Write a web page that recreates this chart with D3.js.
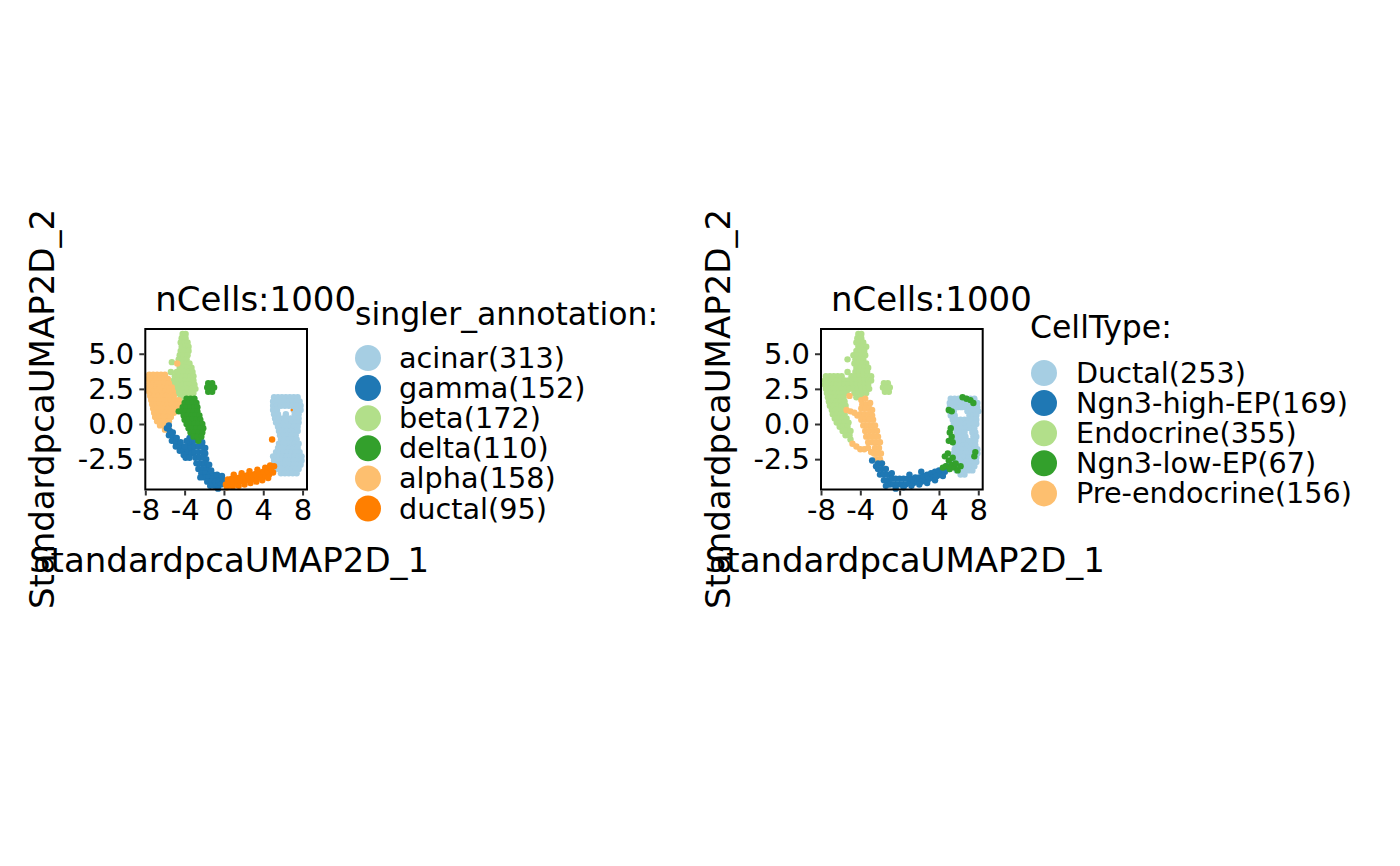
<!DOCTYPE html>
<html><head><meta charset="utf-8">
<script src="https://cdn.jsdelivr.net/npm/d3@7"></script>
<style>body{margin:0;background:#fff}svg{display:block}text{font-family:"DejaVu Sans",sans-serif;fill:#000}</style>
</head><body><svg id="chart" width="1400" height="866"></svg>
<script>
// ---------- data ----------
const title = "nCells:1000";
const xLabel = "StandardpcaUMAP2D_1";
const yLabel = "StandardpcaUMAP2D_2";
const xTicks = [-8, -4, 0, 4, 8];
const yTicks = [-2.5, 0, 2.5, 5];
const palette = ["#a6cee3", "#1f78b4", "#b2df8a", "#33a02c", "#fdbf6f", "#ff7f00"];

const legend1Title = "singler_annotation:";
const cats1 = ["acinar", "gamma", "beta", "delta", "alpha", "ductal"];
const counts1 = [313, 152, 172, 110, 158, 95];
const legend2Title = "CellType:";
const cats2 = ["Ductal", "Ngn3-high-EP", "Endocrine", "Ngn3-low-EP", "Pre-endocrine"];
const counts2 = [253, 169, 355, 67, 156];

// rows: [y, [x values]]
const acinarRows = [
 [1.9,[5.1,5.5,5.9,6.3,6.7,7.1,7.5]],
 [1.6,[5.0,5.4,5.8,6.2,6.6,7.0,7.4,7.7]],
 [1.3,[5.0,5.4,5.8,6.2,6.6,7.0,7.4,7.8]],
 [1.0,[5.0,5.4,7.1,7.5,7.8]],
 [0.7,[5.1,5.5,6.3,7.2,7.6]],
 [0.4,[5.2,5.6,6.0,6.4,6.8,7.2,7.6]],
 [0.1,[5.3,5.7,6.1,6.5,6.9,7.3,7.6]],
 [-0.2,[5.5,5.9,6.3,6.7,7.1,7.5]],
 [-0.5,[5.6,6.0,6.4,6.8,7.2,7.5]],
 [-0.8,[5.7,6.1,6.5,6.9,7.3]],
 [-1.1,[5.8,6.2,6.6,7.0,7.4]],
 [-1.4,[5.6,6.0,6.4,6.8,7.2,7.6]],
 [-1.7,[5.5,5.9,6.3,6.7,7.1,7.5]],
 [-2.0,[5.3,5.7,6.1,6.5,6.9,7.3,7.7]],
 [-2.3,[5.0,5.2,5.6,6.0,6.4,6.8,7.2,7.6,7.9]],
 [-2.6,[5.1,5.5,5.9,6.3,6.7,7.1,7.5,7.9]],
 [-2.9,[5.1,5.5,5.9,6.3,6.7,7.1,7.5,7.8]],
 [-3.2,[5.3,5.7,6.1,6.5,6.9,7.3,7.6]],
 [-3.5,[5.8,6.2,6.6,7.0,7.4]]
];
const betaRows = [
 [6.4,[-4.2,-3.9]],
 [6.1,[-4.3,-3.9]],
 [5.8,[-4.4,-4.0,-3.7]],
 [5.5,[-4.3,-3.9,-3.6]],
 [5.2,[-4.4,-4.0,-3.6]],
 [4.9,[-4.5,-4.1,-3.7]],
 [4.6,[-4.6,-4.2,-3.8]],
 [4.4,[-5.3]],
 [4.3,[-4.6,-4.2,-3.8,-3.5]],
 [4.0,[-4.5,-4.1,-3.7,-3.3]],
 [3.7,[-5.4,-4.8,-4.4,-4.0,-3.6,-3.2]],
 [3.4,[-5.0,-4.6,-4.2,-3.8,-3.4,-3.1]],
 [3.1,[-5.1,-4.7,-4.3,-3.9,-3.5,-3.1]],
 [2.8,[-5.0,-4.6,-4.2,-3.8,-3.4,-3.0]],
 [2.5,[-4.9,-4.5,-4.1,-3.7,-3.3,-2.9]],
 [2.2,[-4.7,-4.3,-3.9,-3.5,-3.1]],
 [1.9,[-4.4,-4.0,-3.6,-3.2]],
 [1.6,[-4.2,-3.8]]
];
const alphaRows = [
 [4.3,[-4.75]],
 [3.5,[-7.6,-7.2,-6.8,-6.4,-6.0]],
 [3.2,[-7.7,-7.3,-6.9,-6.5,-6.1,-5.7]],
 [2.9,[-7.6,-7.2,-6.8,-6.4,-6.0,-5.6]],
 [2.6,[-7.7,-7.3,-6.9,-6.5,-6.1,-5.7,-5.3]],
 [2.3,[-7.6,-7.2,-6.8,-6.4,-6.0,-5.6,-5.2]],
 [2.0,[-7.5,-7.1,-6.7,-6.3,-5.9,-5.5,-5.1]],
 [1.7,[-7.4,-7.0,-6.6,-6.2,-5.8,-5.4,-5.0,-4.6]],
 [1.4,[-7.3,-6.9,-6.5,-6.1,-5.7,-5.3,-4.9,-4.5]],
 [1.1,[-7.2,-6.8,-6.4,-6.0,-5.6,-5.2,-4.8]],
 [0.8,[-7.1,-6.7,-6.3,-5.9,-5.5,-5.1]],
 [0.5,[-7.0,-6.6,-6.2,-5.8,-5.4]],
 [0.2,[-6.8,-6.4,-6.0,-5.6]],
 [-0.1,[-6.5,-6.1,-5.7]],
 [-0.4,[-6.0,-5.6]]
];
const deltaRows = [
 [2.9,[-1.6,-1.2]],
 [2.6,[-1.7,-1.3,-1.0]],
 [2.3,[-1.6,-1.2]],
 [1.8,[-3.8,-3.4,-3.0]],
 [1.5,[-4.0,-3.6,-3.2,-2.8]],
 [1.2,[-4.2,-3.8,-3.4,-3.0,-2.7]],
 [0.9,[-4.6,-4.3,-3.9,-3.5,-3.1,-2.7]],
 [0.6,[-4.1,-3.7,-3.3,-2.9,-2.5]],
 [0.3,[-4.0,-3.6,-3.2,-2.8,-2.4]],
 [0.0,[-3.8,-3.4,-3.0,-2.6,-2.2]],
 [-0.3,[-3.6,-3.2,-2.8,-2.4,-2.1]],
 [-0.6,[-3.4,-3.0,-2.6,-2.2]],
 [-0.9,[-3.1,-2.7,-2.3]],
 [-1.2,[-2.6]]
];
const gammaPts = [
 [-5.8,-0.3],[-5.5,-0.5],[-5.6,-0.8],[-5.2,-0.9],[-5.3,-1.2],[-4.9,-1.3],[-4.9,-1.6],[-4.5,-1.6],
 [-4.5,-1.9],[-4.1,-1.9],[-4.1,-2.2],[-3.7,-2.1],[-3.7,-1.8],[-3.6,-1.4],[-3.5,-1.0],[-3.3,-1.3],
 [-3.3,-1.7],[-3.3,-2.1],[-3.0,-1.2],[-2.6,-1.2],[-2.2,-1.3],[-3.0,-1.6],[-2.6,-1.6],[-2.2,-1.6],
 [-1.9,-1.7],[-3.0,-2.0],[-2.6,-2.0],[-2.2,-2.0],[-1.9,-2.1],[-2.9,-2.4],[-2.5,-2.4],[-2.1,-2.4],
 [-1.8,-2.5],[-2.8,-2.8],[-2.4,-2.8],[-2.0,-2.8],[-1.7,-2.9],[-2.6,-3.2],[-2.2,-3.2],[-1.8,-3.2],
 [-1.5,-3.3],[-2.3,-3.5],[-1.9,-3.5],[-1.5,-3.6],[-1.1,-3.6],[-2.0,-3.8],[-1.6,-3.8],[-1.2,-3.9],
 [-0.8,-3.9],[-0.4,-3.8],[-1.7,-4.1],[-1.3,-4.1],[-0.9,-4.1],[-0.5,-4.1],[-0.1,-4.0],[-1.0,-4.4],
 [-0.6,-4.4],[-0.3,-4.3],[-2.6,-0.8],
 [-5.6,-0.1],[-5.2,-0.6],[-4.8,-1.0],[-4.4,-1.3],[-4.0,-1.6],[-3.9,-2.4],[-3.5,-2.4],[-3.8,-1.2],
 [-1.5,-2.9],[-1.3,-3.3],[-0.7,-3.6],[-0.2,-3.7],[-1.4,-4.4],[-2.4,-3.8],[-0.6,-4.6],[-3.1,-0.9]
];
const ductalPts = [
 [0.2,-4.3],[0.6,-4.25],[1.0,-4.2],[1.4,-4.15],[1.8,-4.05],[2.2,-4.0],[2.6,-3.95],[3.0,-3.9],
 [3.4,-3.8],[3.8,-3.75],[4.2,-3.7],[4.6,-3.6],[5.0,-3.45],
 [0.4,-3.95],[0.8,-3.9],[1.2,-3.85],[1.6,-3.8],[2.0,-3.7],[2.4,-3.65],[2.8,-3.6],[3.2,-3.55],
 [3.6,-3.45],[4.0,-3.4],[4.4,-3.35],[4.8,-3.2],
 [1.0,-3.6],[1.8,-3.5],[2.6,-3.35],[3.4,-3.25],[4.2,-3.1],[4.7,-2.95],[5.1,-3.0],
 [0.3,-4.5],[0.9,-4.45],[1.5,-4.4],[2.1,-4.3],[2.7,-4.2],[3.3,-4.1],[3.9,-4.0],[4.5,-3.85],
 [4.9,-1.1]
];
const ductalSmall = [[6.9, 1.0]];

const ductal2Rows = [
 [1.8,[5.2,5.6,6.0,6.4,6.8,7.2,7.6]],
 [1.5,[5.1,5.5,5.9,6.3,6.7,7.1,7.5,7.9]],
 [1.2,[5.1,5.5,5.9,6.3,6.7,7.1,7.5,7.9]],
 [0.9,[5.1,5.5,6.9,7.3,7.7,8.0]],
 [0.6,[5.2,5.6,7.1,7.5,7.8]],
 [0.3,[5.4,5.8,6.2,6.6,7.0,7.4,7.8]],
 [0.0,[5.5,5.9,6.3,6.7,7.1,7.5,7.8]],
 [-0.3,[5.6,6.0,6.4,6.8,7.2,7.6]],
 [-0.6,[5.8,6.2,6.6,7.4,7.7]],
 [-0.9,[5.9,6.3,6.7,7.5,7.8]],
 [-1.2,[5.8,6.2,6.6,7.0,7.4,7.7]],
 [-1.5,[5.7,6.1,6.5,6.9,7.3,7.7]],
 [-1.8,[5.6,6.0,6.4,6.8,7.2,7.6,7.9]],
 [-2.1,[5.5,5.9,6.3,6.7,7.1,7.5,7.9]],
 [-2.4,[5.4,5.8,6.2,6.6,7.0,7.4,7.8]],
 [-2.7,[5.5,5.9,6.3,6.7,7.1,7.5,7.8]],
 [-3.0,[5.6,6.0,6.4,6.8,7.2,7.6]],
 [-3.3,[5.8,6.2,6.6,7.0,7.4]],
 [-3.6,[6.2,6.6]]
];
const endocrineRows = [
 [6.4,[-4.2,-3.9]],
 [6.1,[-4.3,-3.9]],
 [5.8,[-4.4,-4.0,-3.7]],
 [5.5,[-4.2,-3.8,-3.4]],
 [5.2,[-4.4,-4.0,-3.6]],
 [4.9,[-4.7,-4.3,-3.9,-3.5]],
 [4.6,[-5.3,-4.5,-4.1,-3.7]],
 [4.3,[-4.6,-4.2,-3.8,-3.4]],
 [4.0,[-4.4,-4.0,-3.6,-3.2]],
 [3.7,[-5.3,-4.5,-4.1,-3.7,-3.3]],
 [3.4,[-7.5,-7.1,-6.7,-6.3,-5.9,-4.9,-4.5,-4.1,-3.7,-3.3,-2.9]],
 [3.1,[-7.6,-7.2,-6.8,-6.4,-6.0,-5.6,-5.2,-4.8,-4.4,-4.0,-3.6,-3.2,-2.9]],
 [2.8,[-7.6,-7.2,-6.8,-6.4,-6.0,-5.6,-5.2,-4.8,-4.4,-4.0,-3.6,-3.2]],
 [2.5,[-7.5,-7.1,-6.7,-6.3,-5.9,-5.5,-5.1,-4.7,-4.3,-3.9,-3.5,-3.1]],
 [2.2,[-7.4,-7.0,-6.6,-6.2,-5.8,-5.4,-4.6,-4.2,-3.8,-3.4]],
 [1.9,[-7.3,-6.9,-6.5,-6.1,-5.7,-4.4,-4.0]],
 [1.6,[-7.2,-6.8,-6.4,-6.0,-5.6]],
 [1.3,[-7.1,-6.7,-6.3,-5.9,-5.5]],
 [1.0,[-6.9,-6.5,-6.1,-5.7]],
 [0.7,[-6.8,-6.4,-6.0,-5.6]],
 [0.4,[-6.6,-6.2,-5.8,-5.4]],
 [0.1,[-6.4,-6.0,-5.6,-5.2]],
 [-0.2,[-6.1,-5.7,-5.3]],
 [-0.5,[-5.8,-5.4,-5.0]],
 [-0.8,[-5.5,-5.1]],
 [-1.1,[-5.0]],
 [2.9,[-1.6,-1.2]],
 [2.6,[-1.7,-1.3,-1.0]],
 [2.3,[-1.5,-1.1]]
];
const preEndoPts = [
 [-5.1,2.0],[-5.4,1.0],[-5.0,0.9],[-4.6,0.8],[-4.3,0.6],
 [-3.9,1.7],[-3.5,1.8],[-3.8,1.4],[-3.4,1.4],[-3.0,1.5],
 [-3.9,1.1],[-3.5,1.1],[-3.1,1.1],[-2.8,1.0],
 [-4.0,0.7],[-3.6,0.7],[-3.2,0.7],[-2.8,0.6],
 [-3.9,0.3],[-3.5,0.3],[-3.1,0.3],[-2.7,0.3],
 [-3.7,-0.1],[-3.3,-0.1],[-2.9,-0.1],[-2.5,-0.1],
 [-3.5,-0.5],[-3.1,-0.5],[-2.7,-0.5],[-2.3,-0.5],
 [-3.4,-0.9],[-3.0,-0.9],[-2.6,-0.9],[-2.2,-0.9],
 [-3.2,-1.3],[-2.8,-1.3],[-2.4,-1.3],[-2.0,-1.3],
 [-4.8,-1.4],[-4.4,-1.6],[-4.0,-1.8],[-3.6,-1.8],[-3.2,-1.7],
 [-2.9,-2.0],[-2.5,-1.7],[-2.1,-1.7],[-2.6,-2.1],[-2.2,-2.1],[-1.9,-2.1],
 [-2.4,-2.5],[-2.0,-2.5],[-2.2,-2.9],[-1.8,-2.8]
];
const ngnHighPts = [
 [-2.8,-2.6],[-2.2,-2.8],[-1.8,-2.8],[-2.2,-3.2],[-1.8,-3.2],[-1.4,-3.2],[-2.0,-3.6],[-1.6,-3.6],
 [-1.2,-3.6],[-0.8,-3.5],[-1.6,-4.0],[-1.2,-4.0],[-0.8,-3.9],[-0.4,-3.9],[-1.0,-4.3],[-0.6,-4.3],
 [-0.2,-4.3],[0.0,-3.9],[0.4,-3.9],[0.2,-4.3],[0.6,-4.3],[1.0,-4.2],[0.8,-3.9],[1.2,-3.9],
 [1.4,-4.2],[1.6,-3.8],[1.8,-4.1],[2.0,-3.8],[2.2,-4.1],[2.4,-3.7],[2.6,-4.0],[2.8,-3.6],
 [3.0,-3.9],[3.2,-3.5],[3.4,-3.8],[3.6,-3.4],[3.8,-3.7],[4.0,-3.3],[4.2,-3.6],[4.4,-3.2],
 [4.6,-3.4],[1.0,-3.6],[2.2,-3.4],
 [0.4,-4.5],[1.2,-4.4],[2.0,-4.3],[2.8,-4.2],[3.6,-4.0],[-0.4,-4.6],[4.8,-3.0],[5.0,-3.2],
 [-1.4,-4.4],[-2.4,-3.0],[4.4,-3.7]
];
const ngnLowPts = [
 [4.6,-2.3],[4.9,-2.1],[5.0,-2.6],[5.3,-2.9],[4.7,-3.0],[5.1,-3.2],[5.6,-3.1],[5.9,-3.3],
 [5.4,-2.4],[4.4,-3.1],[5.7,-2.8],[6.2,-3.0],
 [5.1,-0.6],[5.3,-0.9],[5.0,-1.2],[5.4,-1.3],[5.2,-0.3],
 [5.0,1.0],[5.3,0.9],
 [6.4,1.9],[6.8,1.8],[7.2,1.7],[7.5,1.5],
 [7.7,-2.0],[7.6,-2.3]
];

// ---------- helpers ----------
const fromRows = rows => rows.flatMap(([y, xs]) => xs.map(x => [x, y]));
const hyphen = f => d => f(d).replace("\u2212", "-");

const panels = [
 {
  x0: 145.3, x1: 307, legendTitle: legend1Title, cats: cats1, counts: counts1,
  legend: {tx: 355, ty: 325, cx: 368, cy0: 358, label: 399},
  layers: [
   {pts: fromRows(acinarRows), c: palette[0], r: 3.2},
   {pts: fromRows(betaRows), c: palette[2], r: 3.2},
   {pts: fromRows(alphaRows), c: palette[4], r: 3.2},
   {pts: gammaPts, c: palette[1], r: 3.2},
   {pts: fromRows(deltaRows), c: palette[3], r: 3.2},
   {pts: ductalPts, c: palette[5], r: 3.2},
   {pts: ductalSmall, c: palette[5], r: 1.2}
  ]
 },
 {
  x0: 821, x1: 982.7, legendTitle: legend2Title, cats: cats2, counts: counts2,
  legend: {tx: 1030, ty: 338, cx: 1044, cy0: 373, label: 1076},
  layers: [
   {pts: fromRows(ductal2Rows), c: palette[0], r: 3.2},
   {pts: fromRows(endocrineRows), c: palette[2], r: 3.2},
   {pts: preEndoPts, c: palette[4], r: 3.2},
   {pts: ngnHighPts, c: palette[1], r: 3.2},
   {pts: ngnLowPts, c: palette[3], r: 3.2}
  ]
 }
];

const svg = d3.select("#chart");
svg.append("rect").attr("width", 1400).attr("height", 866).attr("fill", "#fff");

const yTop = 329, yBot = 489.5;

panels.forEach(p => {
 const x = d3.scaleLinear().domain([-8, 8.45]).range([p.x0, p.x1]);
 const y = d3.scaleLinear().domain([-4.66, 6.76]).range([yBot, yTop]);
 const g = svg.append("g");

 p.layers.forEach(l => {
  g.append("g").selectAll("circle").data(l.pts).join("circle")
   .attr("cx", d => x(d[0])).attr("cy", d => y(d[1])).attr("r", l.r)
   .attr("fill", l.c);
 });

 g.append("rect").attr("x", p.x0).attr("y", yTop).attr("width", p.x1 - p.x0)
  .attr("height", yBot - yTop).attr("fill", "none").attr("stroke", "#000").attr("stroke-width", 2);

 const ax = g.append("g").attr("transform", `translate(0,${yBot + 1})`)
  .call(d3.axisBottom(x).tickValues(xTicks).tickSize(5).tickPadding(4).tickFormat(hyphen(d3.format("d"))));
 const ay = g.append("g").attr("transform", `translate(${p.x0 - 1},0)`)
  .call(d3.axisLeft(y).tickValues(yTicks).tickSize(5).tickPadding(5).tickFormat(hyphen(d3.format(".1f"))));
 [ax, ay].forEach(a => {
  a.select(".domain").remove();
  a.selectAll(".tick line").attr("stroke", "#333").attr("stroke-width", 2);
  a.selectAll(".tick text").attr("fill", "#000").style("font-size", "29px").style("font-family", "DejaVu Sans");
 });

 g.append("text").attr("x", p.x0 + 10).attr("y", 311).style("font-size", "34px").text(title);
 g.append("text").attr("x", (p.x0 + p.x1) / 2 + 3).attr("y", 572).attr("text-anchor", "middle")
  .style("font-size", "34px").text(xLabel);
 g.append("text").attr("transform", `translate(${p.x0 - 91},409) rotate(-90)`).attr("text-anchor", "middle")
  .style("font-size", "34px").text(yLabel);

 const lg = g.append("g");
 lg.append("text").attr("x", p.legend.tx).attr("y", p.legend.ty).style("font-size", "31.5px").text(p.legendTitle);
 p.cats.forEach((c, i) => {
  const cy = p.legend.cy0 + i * 30.1;
  lg.append("circle").attr("cx", p.legend.cx).attr("cy", cy).attr("r", 13).attr("fill", palette[i]);
  lg.append("text").attr("x", p.legend.label).attr("y", cy + 10).style("font-size", "28.7px")
   .text(`${c}(${p.counts[i]})`);
 });
});
</script></body></html>
